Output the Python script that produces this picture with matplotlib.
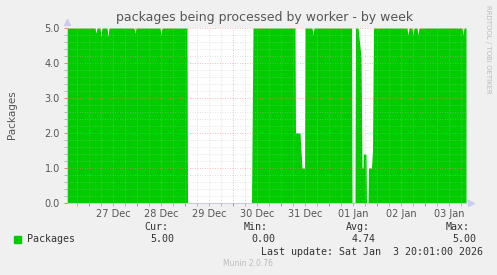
import pandas as pd
import numpy as np
import matplotlib
matplotlib.use('Agg')
import matplotlib.pyplot as plt
import matplotlib.dates as mdates
import matplotlib.transforms as mtransforms

# data: hours since 26 Dec 13:00 and number of packages
start = pd.Timestamp('2025-12-26 13:00')
end_hours = 199.5
hours = [0, 14, 14.5, 15, 16.5, 17, 17.5, 20, 20.5, 21, 33.5, 34, 34.5,
         46.5, 47, 47.5, 60, 60.25, 92.25, 93,
         114, 114.25, 116.5, 117, 117.5, 118.75, 119,
         122.5, 123, 123.5, 142.25, 142.5, 144, 144.25,
         145.5, 147, 147.5, 148, 148.25, 149.5, 149.75, 150.5, 150.75,
         152.25, 152.75, 153.25,
         170, 170.5, 171, 172.5, 173, 173.5, 175, 175.5, 176,
         197.5, 198, 198.5, 199.5]
packages = [5, 5, 4.85, 5, 5, 4.75, 5, 5, 4.75, 5, 5, 4.85, 5,
            5, 4.8, 5, 5, 0, 0, 5,
            5, 2.0, 2.0, 1.5, 1.0, 1.0, 5,
            5, 4.8, 5, 5, 0, 0, 5,
            5, 4.2, 1.0, 1.0, 1.4, 1.4, 0, 0, 1.0,
            1.0, 1.5, 5,
            5, 4.8, 5, 5, 4.8, 5, 5, 4.8, 5,
            5, 4.8, 5, 5]

day_labels = ['27 Dec', '28 Dec', '29 Dec', '30 Dec', '31 Dec', '01 Jan', '02 Jan', '03 Jan']
stats_names = ['Cur:', 'Min:', 'Avg:', 'Max:']
stats_values = ['5.00', '0.00', '4.74', '5.00']

times = [start + pd.Timedelta(hours=h) for h in hours]
end = start + pd.Timedelta(hours=end_hours)

bg = '#f0f0f0'
fig = plt.figure(figsize=(4.97, 2.75), dpi=100, facecolor=bg)
ax = fig.add_axes([67/497, 72/275, 399/497, 175/275])
ax.set_facecolor('white')

ax.fill_between(times, packages, 0, color='#00cc00', linewidth=0, zorder=2)

ax.set_xlim(start, end)
ax.set_ylim(0, 5)

# grid: minor every 6h / 0.2, major every day / 1.0
ax.xaxis.set_major_locator(mdates.DayLocator())
ax.xaxis.set_minor_locator(mdates.HourLocator(byhour=[0, 6, 12, 18]))
ax.xaxis.set_major_formatter(plt.NullFormatter())
ax.set_yticks(np.arange(0, 5.01, 1.0))
ax.set_yticks(np.arange(0, 5.01, 0.2), minor=True)
ax.set_yticklabels(['%.1f' % v for v in np.arange(0, 5.01, 1.0)])

ax.grid(True, which='minor', color='#bbbbbb', linestyle=(0, (1, 2)), linewidth=0.6, alpha=0.55, zorder=3)
ax.grid(True, which='major', color='#ee8080', linestyle=(0, (1, 2)), linewidth=0.6, alpha=0.7, zorder=3)
ax.set_axisbelow(False)

ax.tick_params(axis='both', which='major', color='#ee6666', length=2, width=0.6,
               labelsize=7, labelcolor='#555555', pad=3)
ax.tick_params(axis='both', which='minor', color='#aaaaaa', length=2, width=0.6)

for s in ['top', 'right']:
    ax.spines[s].set_visible(False)
for s in ['left', 'bottom']:
    ax.spines[s].set_color('#ccccdd')
    ax.spines[s].set_linewidth(0.8)

# day labels centred at noon
trans = mtransforms.blended_transform_factory(ax.transData, ax.transAxes)
for i, lab in enumerate(day_labels):
    t = pd.Timestamp('2025-12-27 12:00') + pd.Timedelta(days=i)
    ax.text(mdates.date2num(t), -0.035, lab, transform=trans, ha='center', va='top',
            fontsize=7, color='#555555')

# axis arrows
ax.plot([0], [1.035], marker='^', markersize=4, color='#ccccee', transform=ax.transAxes, clip_on=False)
ax.plot([1.012], [0], marker='>', markersize=4, color='#ccccee', transform=ax.transAxes, clip_on=False)

fig.text(265/497, 1 - 18/275, 'packages being processed by worker - by week',
         ha='center', va='center', fontsize=9, color='#555555')
fig.text(12/497, 1 - 115/275, 'Packages', rotation=90, ha='center', va='center',
         fontsize=7.5, color='#555555')
fig.text(488/497, 1 - 5/275, 'RRDTOOL / TOBI OETIKER', rotation=270, ha='center', va='top',
         fontsize=5, color='#bbbbbb')

mono = 'DejaVu Sans Mono'
fig.patches.append(plt.Rectangle((14/497, 1 - 243/275), 7/497, 7/275, color='#00cc00',
                                 transform=fig.transFigure, figure=fig))
fig.text(27/497, 1 - 239/275, 'Packages', ha='left', va='center', fontsize=7.2,
         family=mono, color='#333333')
name_x = [168, 268, 370, 470]
val_x = [174, 275, 376, 476]
for nx, vx, n, v in zip(name_x, val_x, stats_names, stats_values):
    fig.text(nx/497, 1 - 227/275, n, ha='right', va='center', fontsize=7.2, family=mono, color='#333333')
    fig.text(vx/497, 1 - 239/275, v, ha='right', va='center', fontsize=7.2, family=mono, color='#333333')
fig.text(483/497, 1 - 252/275, 'Last update: Sat Jan  3 20:01:00 2026', ha='right', va='center',
         fontsize=7.2, family=mono, color='#333333')
fig.text(248/497, 1 - 263/275, 'Munin 2.0.76', ha='center', va='center', fontsize=5.5,
         color='#bbbbbb')

fig.savefig('out.png', dpi=100, facecolor=bg)
